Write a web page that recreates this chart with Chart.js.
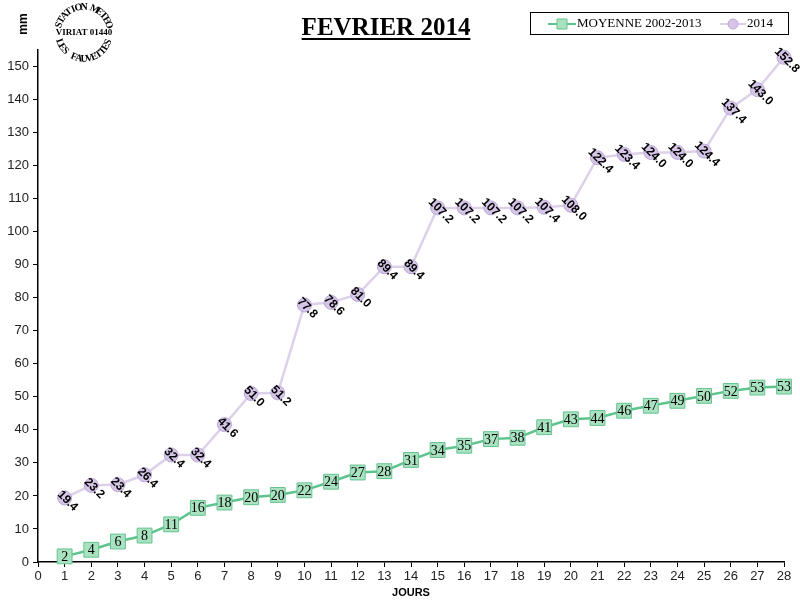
<!DOCTYPE html>
<html>
<head>
<meta charset="utf-8">
<script src="https://cdn.jsdelivr.net/npm/chart.js@4.4.1/dist/chart.umd.min.js"></script>
<style>
  html, body { margin: 0; padding: 0; background: #fff; }
  #wrap { width: 800px; height: 600px; }
</style>
</head>
<body>
<div id="wrap"><canvas id="chart" width="800" height="600"></canvas></div>
<script>
/* ---- données ---- */
const days = [1, 2, 3, 4, 5, 6, 7, 8, 9, 10, 11, 12, 13, 14, 15, 16, 17, 18, 19, 20, 21, 22, 23, 24, 25, 26, 27, 28];
const moyenne = [1.7, 3.7, 6.2, 8.0, 11.4, 16.4, 18.0, 19.6, 20.3, 21.7, 24.3, 27.1, 27.5, 30.9,
                 33.9, 35.2, 37.2, 37.6, 40.8, 43.2, 43.6, 45.8, 47.3, 48.8, 50.3, 51.8, 52.8, 53.1];
const pluie2014 = [19.4, 23.2, 23.4, 26.4, 32.4, 32.4, 41.6, 51.0, 51.2, 77.8, 78.6, 81.0, 89.4, 89.4,
                   107.2, 107.2, 107.2, 107.2, 107.4, 108.0, 122.4, 123.4, 124.0, 124.0, 124.4, 137.4, 143.0, 152.8];
const seriesNames = ["MOYENNE 2002-2013", "2014"];
const titleText = "FEVRIER 2014";
const xTicks = { min: 0, max: 28, step: 1 };
const yTicks = { min: 0, max: 155, step: 10 };

const serif = "'Liberation Serif', 'Times New Roman', serif";
const sans = "'Liberation Sans', Arial, sans-serif";

/* ---- logo + titre + légende ---- */
function arcText(ctx, text, cx, cy, r, startDeg, endDeg, top) {
    const n = text.length;
    for (let i = 0; i < n; i++) {
        const a = (startDeg + (endDeg - startDeg) * (i + 0.5) / n) * Math.PI / 180;
        ctx.save();
        ctx.translate(cx + r * Math.cos(a), cy + r * Math.sin(a));
        ctx.rotate(top ? a + Math.PI / 2 : a - Math.PI / 2);
        ctx.fillText(text[i], 0, 0);
        ctx.restore();
    }
}

const decorPlugin = {
    id: "decor",
    afterDraw(chart) {
        const ctx = chart.ctx;
        ctx.save();
        ctx.fillStyle = "#000";

        // logo
        ctx.font = "bold 10px " + serif;
        ctx.textAlign = "center";
        ctx.textBaseline = "middle";
        arcText(ctx, "STATION METEO", 84, 33, 26, -168, -12, true);
        arcText(ctx, "LES FAUVETTES", 84, 33, 26, 165, 15, false);
        ctx.font = "bold 9px " + serif;
        ctx.fillText("VIRIAT 01440", 84, 33);

        // titre
        ctx.font = "bold 25px " + serif;
        ctx.textBaseline = "alphabetic";
        ctx.fillText(titleText, 386, 35);
        const w = ctx.measureText(titleText).width;
        ctx.fillRect(386 - w / 2, 38, w, 2);

        // légende
        ctx.strokeStyle = "#000";
        ctx.lineWidth = 1;
        ctx.strokeRect(530.5, 12.5, 258, 22);
        const ds = chart.data.datasets;
        const items = [{ x: 548, len: 28 }, { x: 720, len: 26 }];
        ctx.font = "13px " + serif;
        ctx.textAlign = "left";
        ctx.textBaseline = "middle";
        items.forEach((it, i) => {
            const d = ds[i];
            ctx.strokeStyle = d.borderColor;
            ctx.lineWidth = 2;
            ctx.beginPath();
            ctx.moveTo(it.x, 24);
            ctx.lineTo(it.x + it.len, 24);
            ctx.stroke();
            ctx.fillStyle = d.pointBackgroundColor;
            ctx.strokeStyle = d.pointBorderColor;
            ctx.lineWidth = 1;
            const mx = it.x + it.len / 2;
            ctx.beginPath();
            if (i === 0) ctx.rect(mx - 5, 19, 10, 10);
            else ctx.arc(mx, 24, 5, 0, Math.PI * 2);
            ctx.fill();
            ctx.stroke();
            ctx.fillStyle = "#000";
            ctx.fillText(d.label, it.x + it.len + 1, 24);
        });

        // étiquettes des points
        chart.getDatasetMeta(0).data.forEach((pt, i) => {
            ctx.font = "14px " + serif;
            ctx.textAlign = "center";
            ctx.textBaseline = "middle";
            ctx.fillText(Math.round(moyenne[i]), pt.x, pt.y + 1);
        });
        chart.getDatasetMeta(1).data.forEach((pt, i) => {
            ctx.save();
            ctx.translate(pt.x + 3, pt.y + 3);
            ctx.rotate(Math.PI / 4);
            ctx.font = "bold 12px " + sans;
            ctx.textAlign = "center";
            ctx.textBaseline = "middle";
            ctx.fillText(pluie2014[i].toFixed(1), 0, 0);
            ctx.restore();
        });
        ctx.restore();
    }
};

/* ---- graphique ---- */
function drawChart() {
    const ctx = document.getElementById("chart");

    new Chart(ctx, {
        type: "line",
        data: {
            datasets: [{
                label: seriesNames[0],
                data: days.map((d, i) => ({ x: d, y: moyenne[i] })),
                borderColor: "#5cc48c",
                borderWidth: 2.5,
                pointStyle: "rect",
                pointRadius: 10.5,
                pointBackgroundColor: "#a9e2c0",
                pointBorderColor: "#66c290",
                pointBorderWidth: 1,
                clip: false
            }, {
                label: seriesNames[1],
                data: days.map((d, i) => ({ x: d, y: pluie2014[i] })),
                borderColor: "#ddd1ea",
                borderWidth: 2.5,
                pointStyle: "circle",
                pointRadius: 7,
                pointBackgroundColor: "#d5c5e6",
                pointBorderColor: "#bca6d8",
                pointBorderWidth: 1,
                clip: false
            }]
        },
        options: {
            responsive: false,
            animation: false,
            layout: { padding: { top: 50, right: 16, left: 0, bottom: 0 } },
            plugins: { legend: { display: false }, tooltip: { enabled: false } },
            scales: {
                x: {
                    type: "linear",
                    min: xTicks.min,
                    max: xTicks.max,
                    ticks: { stepSize: xTicks.step, color: "#222", font: { family: sans, size: 13 }, padding: 2, maxRotation: 0 },
                    grid: { drawOnChartArea: false, color: "#000", tickLength: 5 },
                    border: { color: "#000", width: 1.5 },
                    title: { display: true, text: "JOURS", color: "#000", font: { family: sans, size: 11, weight: "bold" }, padding: { top: 0, bottom: 0 } },
                    afterFit: s => { s.height = 38; }
                },
                y: {
                    min: yTicks.min,
                    max: yTicks.max,
                    ticks: { stepSize: yTicks.step, color: "#222", font: { family: sans, size: 13 }, padding: 4 },
                    grid: { drawOnChartArea: false, color: "#000", tickLength: 5 },
                    border: { color: "#000", width: 1.5 },
                    afterBuildTicks: s => { s.ticks = s.ticks.filter(t => t.value % yTicks.step === 0); },
                    afterFit: s => { s.width = 38; }
                }
            }
        },
        plugins: [decorPlugin, {
            id: "mmLabel",
            afterDraw(chart) {
                const c = chart.ctx;
                c.save();
                c.translate(24, 24);
                c.rotate(-Math.PI / 2);
                c.font = "bold 12px " + sans;
                c.textAlign = "center";
                c.textBaseline = "middle";
                c.fillStyle = "#000";
                c.fillText("mm", 0, 0);
                c.restore();
            }
        }]
    });
}

document.addEventListener("DOMContentLoaded", drawChart);
</script>
</body>
</html>
